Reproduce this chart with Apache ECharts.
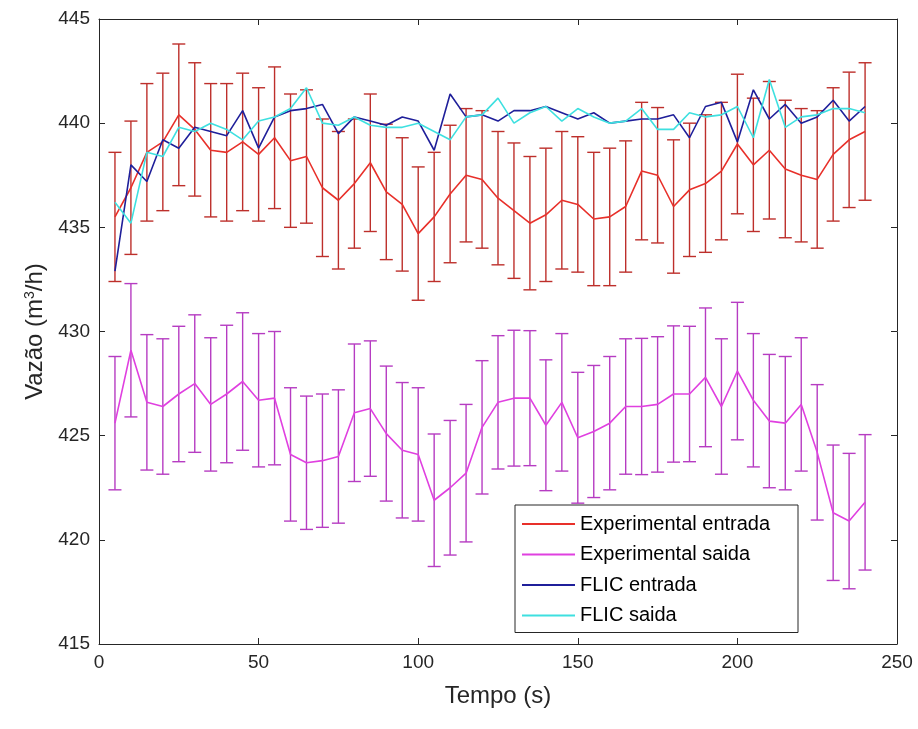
<!DOCTYPE html>
<html>
<head>
<meta charset="utf-8">
<script src="https://cdn.jsdelivr.net/npm/echarts@6/dist/echarts.min.js"></script>
<style>
html,body{margin:0;padding:0;background:#fff;}
#chart{width:918px;height:729px;}
</style>
</head>
<body>
<div id="chart"></div>
<script>
// ---------- data ----------
const tempo = [5,10,15,20,25,30,35,40,45,50,55,60,65,70,75,80,85,90,95,100,105,110,115,120,125,130,135,140,145,150,155,160,165,170,175,180,185,190,195,200,205,210,215,220,225,230,235,240];

const expEntrada = [435.5,436.9,438.6,439.1,440.4,439.7,438.7,438.6,439.1,438.5,
  439.3,438.2,438.4,436.9,436.3,437.1,438.1,436.7,436.1,434.7,
  435.5,436.6,437.5,437.3,436.4,435.8,435.2,435.6,436.3,436.1,
  435.4,435.5,436.0,437.7,437.5,436.0,436.8,437.1,437.7,439.0,
  438.0,438.7,437.8,437.5,437.3,438.5,439.2,439.6];
const errEntrada = [3.1,3.2,3.3,3.3,3.4,3.2,3.2,3.3,3.3,3.2,
  3.4,3.2,3.2,3.3,3.3,3.1,3.3,3.25,3.2,3.2,
  3.1,3.3,3.2,3.3,3.2,3.25,3.2,3.2,3.3,3.25,
  3.2,3.3,3.15,3.3,3.25,3.2,3.2,3.3,3.3,3.35,
  3.2,3.3,3.3,3.2,3.3,3.2,3.25,3.3];

const expSaida = [425.6,429.1,426.6,426.4,427.0,427.5,426.5,427.0,427.6,426.7,
  426.8,424.1,423.7,423.8,424.0,426.1,426.3,425.1,424.3,424.1,
  421.9,422.5,423.2,425.4,426.6,426.8,426.8,425.5,426.6,424.9,
  425.2,425.6,426.4,426.4,426.5,427.0,427.0,427.8,426.4,428.1,
  426.7,425.7,425.6,426.5,424.2,421.3,420.9,421.8];
const errSaida = [3.2,3.2,3.25,3.25,3.25,3.3,3.2,3.3,3.3,3.2,
  3.2,3.2,3.2,3.2,3.2,3.3,3.25,3.24,3.25,3.2,
  3.18,3.23,3.3,3.2,3.2,3.26,3.24,3.14,3.3,3.14,
  3.17,3.2,3.25,3.27,3.25,3.27,3.25,3.33,3.25,3.3,
  3.2,3.2,3.2,3.2,3.25,3.25,3.25,3.25];

const flicEntrada = [432.9,438.0,437.2,439.2,438.8,439.8,439.6,439.4,440.6,438.8,
  440.3,440.6,440.7,440.9,439.5,440.3,440.1,439.9,440.3,440.1,
  438.7,441.4,440.3,440.4,440.1,440.6,440.6,440.8,440.5,440.2,
  440.5,440.0,440.1,440.2,440.2,440.4,439.3,440.8,441.0,439.1,
  441.6,440.2,440.9,440.0,440.3,441.1,440.1,440.8];

const flicSaida = [436.2,435.2,438.6,438.4,439.8,439.6,440.0,439.7,439.2,440.1,
  440.3,440.7,441.7,440.0,439.9,440.3,439.9,439.8,439.8,440.0,
  439.6,439.2,440.3,440.4,441.2,440.0,440.5,440.8,440.1,440.7,
  440.3,440.0,440.1,440.7,439.7,439.7,440.5,440.3,440.4,440.8,
  439.3,442.1,439.8,440.3,440.4,440.7,440.7,440.5];

const xTicks = [0,50,100,150,200,250];
const yTicks = [415,420,425,430,435,440,445];
const seriesNames = ['Experimental entrada','Experimental saida','FLIC entrada','FLIC saida'];

// ---------- chart ----------
const FONT = "'Liberation Sans', Arial, Helvetica, sans-serif";
const AX = '#262626';
const chart = echarts.init(document.getElementById('chart'), null, {renderer:'canvas'});

function pairs(vals){ return tempo.map((t,i)=>[t, vals[i]]); }
function errData(vals, errs){ return tempo.map((t,i)=>[t, vals[i]-errs[i], vals[i]+errs[i]]); }
function errSeries(vals, errs, color){
  return {
    type:'custom', silent:true, z:2,
    data: errData(vals, errs),
    encode:{x:0, y:[1,2]},
    renderItem:function(params, api){
      const x = api.value(0);
      const lo = api.coord([x, api.value(1)]);
      const hi = api.coord([x, api.value(2)]);
      const w = 6.5;
      const st = {stroke:color, lineWidth:1.4};
      return {type:'group', children:[
        {type:'line', shape:{x1:lo[0],y1:lo[1],x2:hi[0],y2:hi[1]}, style:st},
        {type:'line', shape:{x1:hi[0]-w,y1:hi[1],x2:hi[0]+w,y2:hi[1]}, style:st},
        {type:'line', shape:{x1:lo[0]-w,y1:lo[1],x2:lo[0]+w,y2:lo[1]}, style:st}
      ]};
    }
  };
}
function lineSeries(name, vals, color, z){
  return {name:name, type:'line', data:pairs(vals), symbol:'none', z:z,
    lineStyle:{color:color, width:1.6}, itemStyle:{color:color}, animation:false};
}

const axCommon = {
  type:'value', splitLine:{show:false},
  axisLine:{show:true, onZero:false, lineStyle:{color:AX, width:1}},
  axisTick:{show:true, inside:true, length:6, lineStyle:{color:AX}}
};

const option = {
  animation:false,
  backgroundColor:'#fff',
  grid:{left:99, right:21, top:19, bottom:85, containLabel:false},
  legend:{
    orient:'vertical', left:515, top:505,
    data: seriesNames.map(n=>({name:n, icon:'rect'})),
    itemWidth:53, itemHeight:2, itemGap:8.5,
    backgroundColor:'#fff', borderColor:AX, borderWidth:1,
    padding:[8,10,6,7],
    textStyle:{fontFamily:FONT, fontSize:20, color:'#000', lineHeight:22, width:208}
  },
  xAxis:[
    Object.assign({}, axCommon, {position:'bottom', min:xTicks[0], max:xTicks[xTicks.length-1], interval:50,
      name:'Tempo (s)', nameLocation:'middle', nameGap:40,
      nameTextStyle:{fontFamily:FONT, fontSize:24, color:AX},
      axisLabel:{fontFamily:FONT, fontSize:19, color:AX, margin:9}}),
    Object.assign({}, axCommon, {position:'top', min:xTicks[0], max:xTicks[xTicks.length-1], interval:50,
      axisLabel:{show:false}})
  ],
  yAxis:[
    Object.assign({}, axCommon, {position:'left', min:yTicks[0], max:yTicks[yTicks.length-1], interval:5,
      name:'Vazão (m{sup|3}/h)', nameLocation:'middle', nameGap:52,
      nameTextStyle:{fontFamily:FONT, fontSize:24, color:AX,
        rich:{sup:{fontFamily:FONT, fontSize:14, color:AX, verticalAlign:'top', lineHeight:24}}},
      axisLabel:{fontFamily:FONT, fontSize:19, color:AX, margin:9}}),
    Object.assign({}, axCommon, {position:'right', min:yTicks[0], max:yTicks[yTicks.length-1], interval:5,
      axisLabel:{show:false}})
  ],
  series:[
    errSeries(expEntrada, errEntrada, '#bd2f2b'),
    lineSeries(seriesNames[0], expEntrada, '#e8302a', 3),
    errSeries(expSaida, errSaida, '#b63cc2'),
    lineSeries(seriesNames[1], expSaida, '#e040e0', 4),
    lineSeries(seriesNames[2], flicEntrada, '#1f1f9a', 5),
    lineSeries(seriesNames[3], flicSaida, '#3ee0e0', 6)
  ]
};
chart.setOption(option);
</script>
</body>
</html>
